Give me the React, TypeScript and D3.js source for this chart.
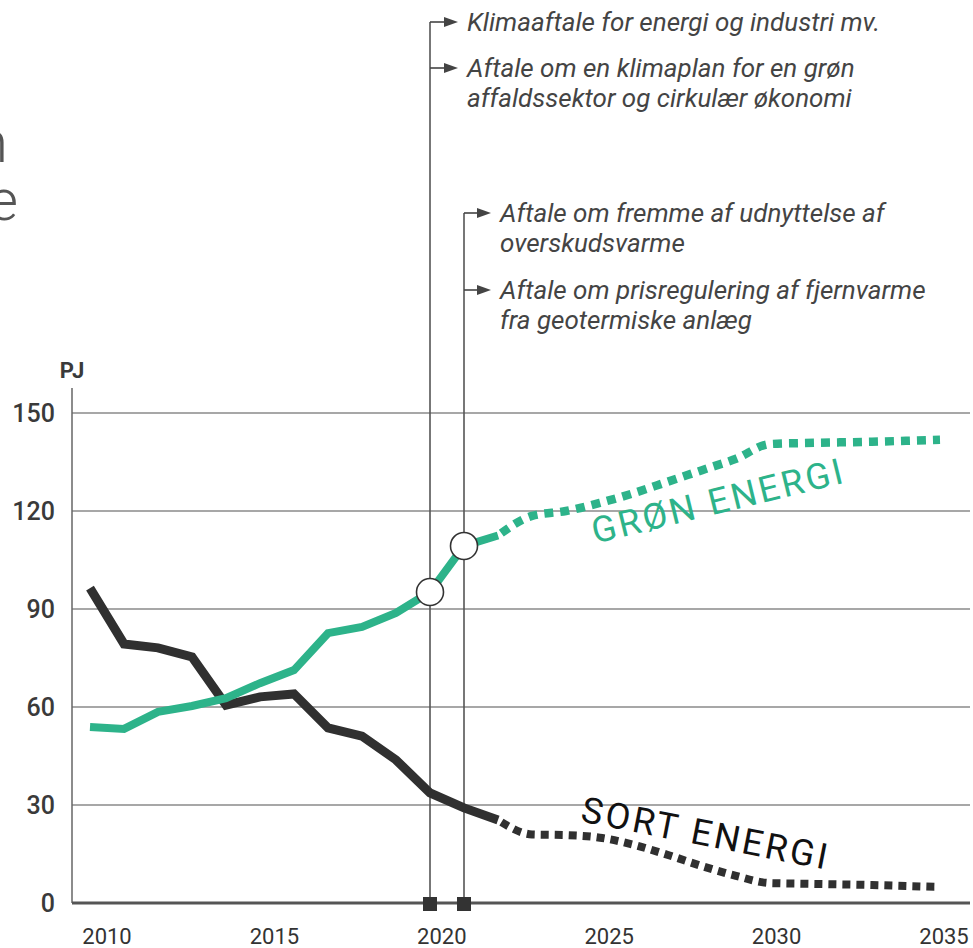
import React from "react";
import * as d3 from "d3";

const histYears = [2010, 2011, 2012, 2013, 2014, 2015, 2016, 2017, 2018, 2019, 2020, 2021, 2022];
const blackHist = [96.4, 79.3, 78.1, 75.3, 60.6, 63.1, 64.0, 53.6, 51.1, 43.8, 33.7, 29.1, 25.4];
const greenHist = [53.9, 53.3, 58.5, 60.3, 62.7, 67.3, 71.3, 82.6, 84.5, 88.8, 95.2, 109.3, 112.5];

const projYears = [2022, 2023, 2024, 2025, 2026, 2027, 2028, 2029, 2030, 2031, 2032, 2033, 2034, 2035];
const blackProj = [25.4, 21.0, 20.8, 20.0, 17.8, 14.7, 11.3, 8.3, 6.1, 5.9, 5.7, 5.5, 5.2, 4.9];
const greenProj = [112.5, 118.5, 120.0, 122.5, 125.5, 129.0, 132.5, 136.0, 140.5, 140.8, 141.0, 141.2, 141.5, 141.8];

const yTicks = [0, 30, 60, 90, 120, 150];
const xTickYears = [2010, 2015, 2020, 2025, 2030, 2035];
const agreementYears = [2020, 2021];

const notes1 = [
  ["Klimaaftale for energi og industri mv."],
  ["Aftale om en klimaplan for en grøn", "affaldssektor og cirkulær økonomi"],
];
const notes2 = [
  ["Aftale om fremme af udnyttelse af", "overskudsvarme"],
  ["Aftale om prisregulering af fjernvarme", "fra geotermiske anlæg"],
];

const GREEN = "#2db38a";
const BLACK = "#303030";

export default function App() {
  const W = 973, H = 948;
  const x = d3.scaleLinear().domain([2010, 2035]).range([90, 940]);
  const xLabel = d3.scaleLinear().domain([2010, 2035]).range([107, 944]);
  const y = d3.scaleLinear().domain([0, 150]).range([903, 413]);
  const axisLeft = 72, axisRight = 970;

  const lineLin = d3.line<[number, number]>().x(d => x(d[0])).y(d => y(d[1]));
  const lineSmooth = d3.line<[number, number]>().x(d => x(d[0])).y(d => y(d[1])).curve(d3.curveMonotoneX);

  const zip = (a: number[], b: number[]) => a.map((v, i) => [v, b[i]] as [number, number]);

  const annotFont = { fontFamily: "Roboto, sans-serif", fontStyle: "italic", fontSize: 26, fill: "#444" } as const;

  const arrow = (x0: number, yy: number, len: number) => (
    <g>
      <line x1={x0} x2={x0 + len - 12} y1={yy} y2={yy} stroke="#444" strokeWidth={1.6} />
      <path d={`M${x0 + len - 14},${yy - 5} L${x0 + len},${yy} L${x0 + len - 14},${yy + 5} Z`} fill="#444" />
    </g>
  );

  const noteGroup = (vx: number, topY: number, tx: number, notes: string[][], arrowYs: number[]) => (
    <g>
      <line x1={vx} x2={vx} y1={topY} y2={y(0)} stroke="#555" strokeWidth={1.6} />
      {notes.map((n, i) => (
        <g key={i}>
          {arrow(vx, arrowYs[i], tx - vx - 9)}
          {n.map((t, j) => (
            <text key={j} x={tx} y={arrowYs[i] + 9 + j * 30} style={annotFont}>{t}</text>
          ))}
        </g>
      ))}
    </g>
  );

  const gAng = -13.7, sAng = 11.1;

  return (
    <svg width={W} height={H} style={{ position: "absolute", left: 0, top: 0, background: "#fff" }}>
      {/* cut-off title */}
      <text x={8} y={162} textAnchor="end" style={{ fontFamily: "Roboto, sans-serif", fontWeight: 300, fontSize: 58, fill: "#555" }}>n</text>
      <text x={18} y={220} textAnchor="end" style={{ fontFamily: "Roboto, sans-serif", fontWeight: 300, fontSize: 58, fill: "#555" }}>e</text>

      {/* gridlines */}
      {yTicks.filter(t => t > 0).map(t => (
        <line key={t} x1={axisLeft} x2={axisRight} y1={y(t)} y2={y(t)} stroke="#8a8a8a" strokeWidth={1.5} />
      ))}
      <line x1={axisLeft} x2={axisLeft} y1={388} y2={y(0)} stroke="#666" strokeWidth={1.5} />

      {/* y labels */}
      {yTicks.map(t => (
        <text key={t} x={55} y={y(t) + 9} textAnchor="end"
          style={{ fontFamily: "Roboto, sans-serif", fontWeight: 500, fontSize: 25, fill: "#3a3a3a" }}>{t}</text>
      ))}
      <text x={72} y={378} textAnchor="middle" style={{ fontFamily: "Roboto, sans-serif", fontWeight: 700, fontSize: 22, fill: "#3a3a3a" }}>PJ</text>

      {/* x labels */}
      {xTickYears.map(t => (
        <text key={t} x={xLabel(t)} y={944} textAnchor="middle"
          style={{ fontFamily: "Roboto, sans-serif", fontWeight: 400, fontSize: 22, fill: "#333" }}>{t}</text>
      ))}

      {/* annotations */}
      {noteGroup(x(2020), 22, 467, notes1, [22, 68])}
      {noteGroup(x(2021), 213, 500, notes2, [213, 290])}

      {/* lines */}
      <path d={lineSmooth(zip(projYears, blackProj)) || ""} fill="none" stroke={BLACK} strokeWidth={8} strokeDasharray="8 6" strokeDashoffset={-4} />
      <path d={lineSmooth(zip(projYears, greenProj)) || ""} fill="none" stroke={GREEN} strokeWidth={8.5} strokeDasharray="9 7" strokeDashoffset={-4} />
      <path d={lineLin(zip(histYears, blackHist)) || ""} fill="none" stroke={BLACK} strokeWidth={9} strokeLinejoin="miter" />
      <path d={lineLin(zip(histYears, greenHist)) || ""} fill="none" stroke={GREEN} strokeWidth={8} strokeLinejoin="miter" />

      {/* x axis */}
      <line x1={axisLeft} x2={axisRight} y1={y(0)} y2={y(0)} stroke="#555" strokeWidth={3} />
      {agreementYears.map(a => (
        <rect key={a} x={x(a) - 7} y={y(0) - 6} width={14} height={14} fill="#333" />
      ))}

      {/* circles */}
      {agreementYears.map(a => {
        const i = histYears.indexOf(a);
        return <circle key={a} cx={x(a)} cy={y(greenHist[i])} r={13.5} fill="#fff" stroke="#333" strokeWidth={1.6} />;
      })}

      {/* series labels */}
      <text transform={`translate(${x(2024.85)},${y(110)}) rotate(${gAng})`}
        style={{ fontFamily: "Roboto, sans-serif", fontSize: 36, letterSpacing: 2.8, fill: GREEN }}>GRØN ENERGI</text>
      <text transform={`translate(${x(2024.4)},${y(25)}) rotate(${sAng})`}
        style={{ fontFamily: "Roboto, sans-serif", fontSize: 36, letterSpacing: 3, fill: "#111" }}>SORT ENERGI</text>
    </svg>
  );
}
